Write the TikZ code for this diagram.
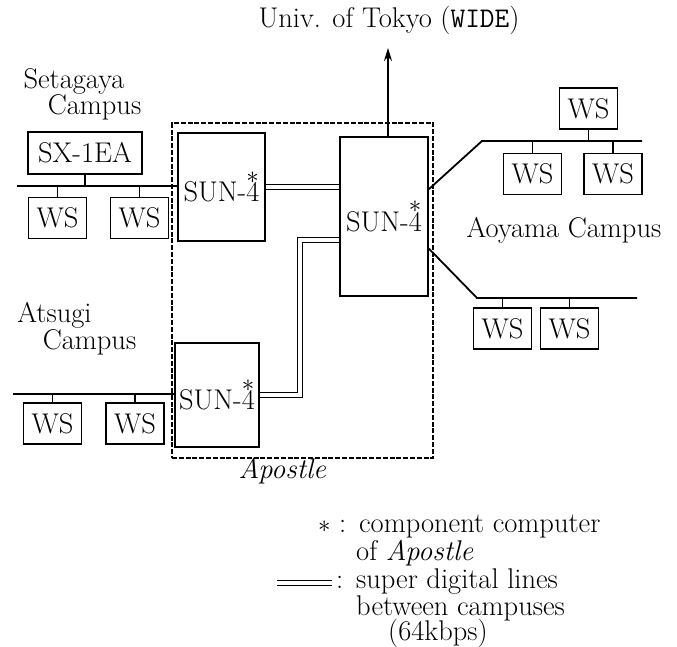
\documentclass[tikz,border=0pt]{standalone}
\usepackage{fontspec}
\usetikzlibrary{arrows.meta,calc}
\newcommand{\sunfour}{SUN-\rlap{\raisebox{0.64em}{$\ast$}}4}
\begin{document}
\begin{tikzpicture}[x=1pt,y=-1pt,
  every node/.style={font=\fontsize{28.5}{33}\selectfont, inner sep=0pt},
  box/.style={draw, line width=1.8pt},
  wsbox/.style={box, minimum width=58pt, minimum height=41pt},
  bus/.style={line width=1.8pt},
  dbl/.style={double, line width=1.4pt, double distance=3.2pt},
  dashbox/.style={draw, line width=1.5pt, dash pattern=on 5pt off 1.8pt},
  lbl/.style={anchor=base west},
  clbl/.style={anchor=base}]
\useasboundingbox (0,0) rectangle (677,647);

% Apostle group
\node[dashbox, minimum width=261pt, minimum height=335pt] (apo) at (302.5,290.5) {};
\node[clbl] (apolbl) at (282.5,478) {\textit{Apostle}};

% SUN-4 machines
\node[box, minimum width=87pt, minimum height=108pt] (s1) at (221.5,187) {\sunfour};
\node[box, minimum width=84pt, minimum height=104pt] (s2) at (217,395) {\sunfour};
\node[box, minimum width=88pt, minimum height=159pt] (s3) at (384,216.5) {\sunfour};

% title and arrow
\node[clbl] (title) at (389,28) {Univ. of Tokyo ({\ttfamily WIDE})};
\coordinate (wide) at (388,48);
\draw[bus, -{Stealth[length=13pt,width=8pt]}] (s3.north -| wide) -- (wide);

% super digital lines
\draw[dbl] (s1.east) -- (s1.east -| s3.west);
\coordinate (bend) at (300,240);
\draw[dbl, line join=miter] (s2.east) -| (bend) -- (bend -| s3.west);

% Setagaya
\node[clbl] (setA) at (74,89) {Setagaya};
\node[clbl] (setB) at (94.5,115) {Campus};
\node[box, minimum width=114pt, minimum height=42pt] (sx) at (85,153) {SX-1EA};
\coordinate (setL) at (17,186);
\draw[bus] (setL) -- (setL -| s1.west);
\node[wsbox] (ws1) at (57.5,218) {WS};
\node[wsbox] (ws2) at (139.5,218) {WS};
\draw[bus] (sx.south) -- (sx.south |- setL);
\draw[bus] (ws1.north) -- (ws1.north |- setL);
\draw[bus] (ws2.north) -- (ws2.north |- setL);

% Atsugi
\node[clbl] (atsA) at (54.5,322) {Atsugi};
\node[clbl] (atsB) at (89.5,349) {Campus};
\coordinate (atsL) at (13,394);
\draw[bus] (atsL) -- (atsL -| s2.west);
\node[wsbox] (ws3) at (52.5,423.5) {WS};
\node[wsbox] (ws4) at (135,423.5) {WS};
\draw[bus] (ws3.north) -- (ws3.north |- atsL);
\draw[bus] (ws4.north) -- (ws4.north |- atsL);

% Aoyama
\node[clbl] (aoy) at (564,237) {Aoyama Campus};
\coordinate (ua0) at ($(s3.north east)!0.33!(s3.south east)$);
\coordinate (ub) at (482,141);
\coordinate (uc) at (642,141);
\draw[bus] (ua0) -- (ub) -- (uc);
\node[wsbox] (ws5) at (588.5,108.5) {WS};
\node[wsbox] (ws6) at (532.5,174) {WS};
\node[wsbox] (ws7) at (613,174) {WS};
\draw[bus] (ws5.south) -- (ws5.south |- ub);
\draw[bus] (ws6.north) -- (ws6.north |- ub);
\draw[bus] (ws7.north) -- (ws7.north |- ub);

\coordinate (la0) at ($(s3.north east)!0.70!(s3.south east)$);
\coordinate (lb) at (477,298);
\coordinate (lc) at (637,298);
\draw[bus] (la0) -- (lb) -- (lc);
\node[wsbox] (ws8) at (502.5,328.5) {WS};
\node[wsbox] (ws9) at (569.5,328.5) {WS};
\draw[bus] (ws8.north) -- (ws8.north |- lb);
\draw[bus] (ws9.north) -- (ws9.north |- lb);

% legend
\node[lbl] (lg1) at (318,532) {$\ast$\hspace{0.3em}:\hspace{0.45em}component computer};
\node[lbl] (lg2) at (356,560) {of \textit{Apostle}};
\coordinate (lgA) at (277,583);
\coordinate (lgB) at (332,583);
\draw[dbl] (lgA) -- (lgB);
\node[lbl] (lg3) at (336,588) {:\hspace{0.45em}super digital lines};
\node[lbl] (lg4) at (356,615) {between campuses};
\node[lbl] (lg5) at (388,640) {(64kbps)};
\end{tikzpicture}
\end{document}
